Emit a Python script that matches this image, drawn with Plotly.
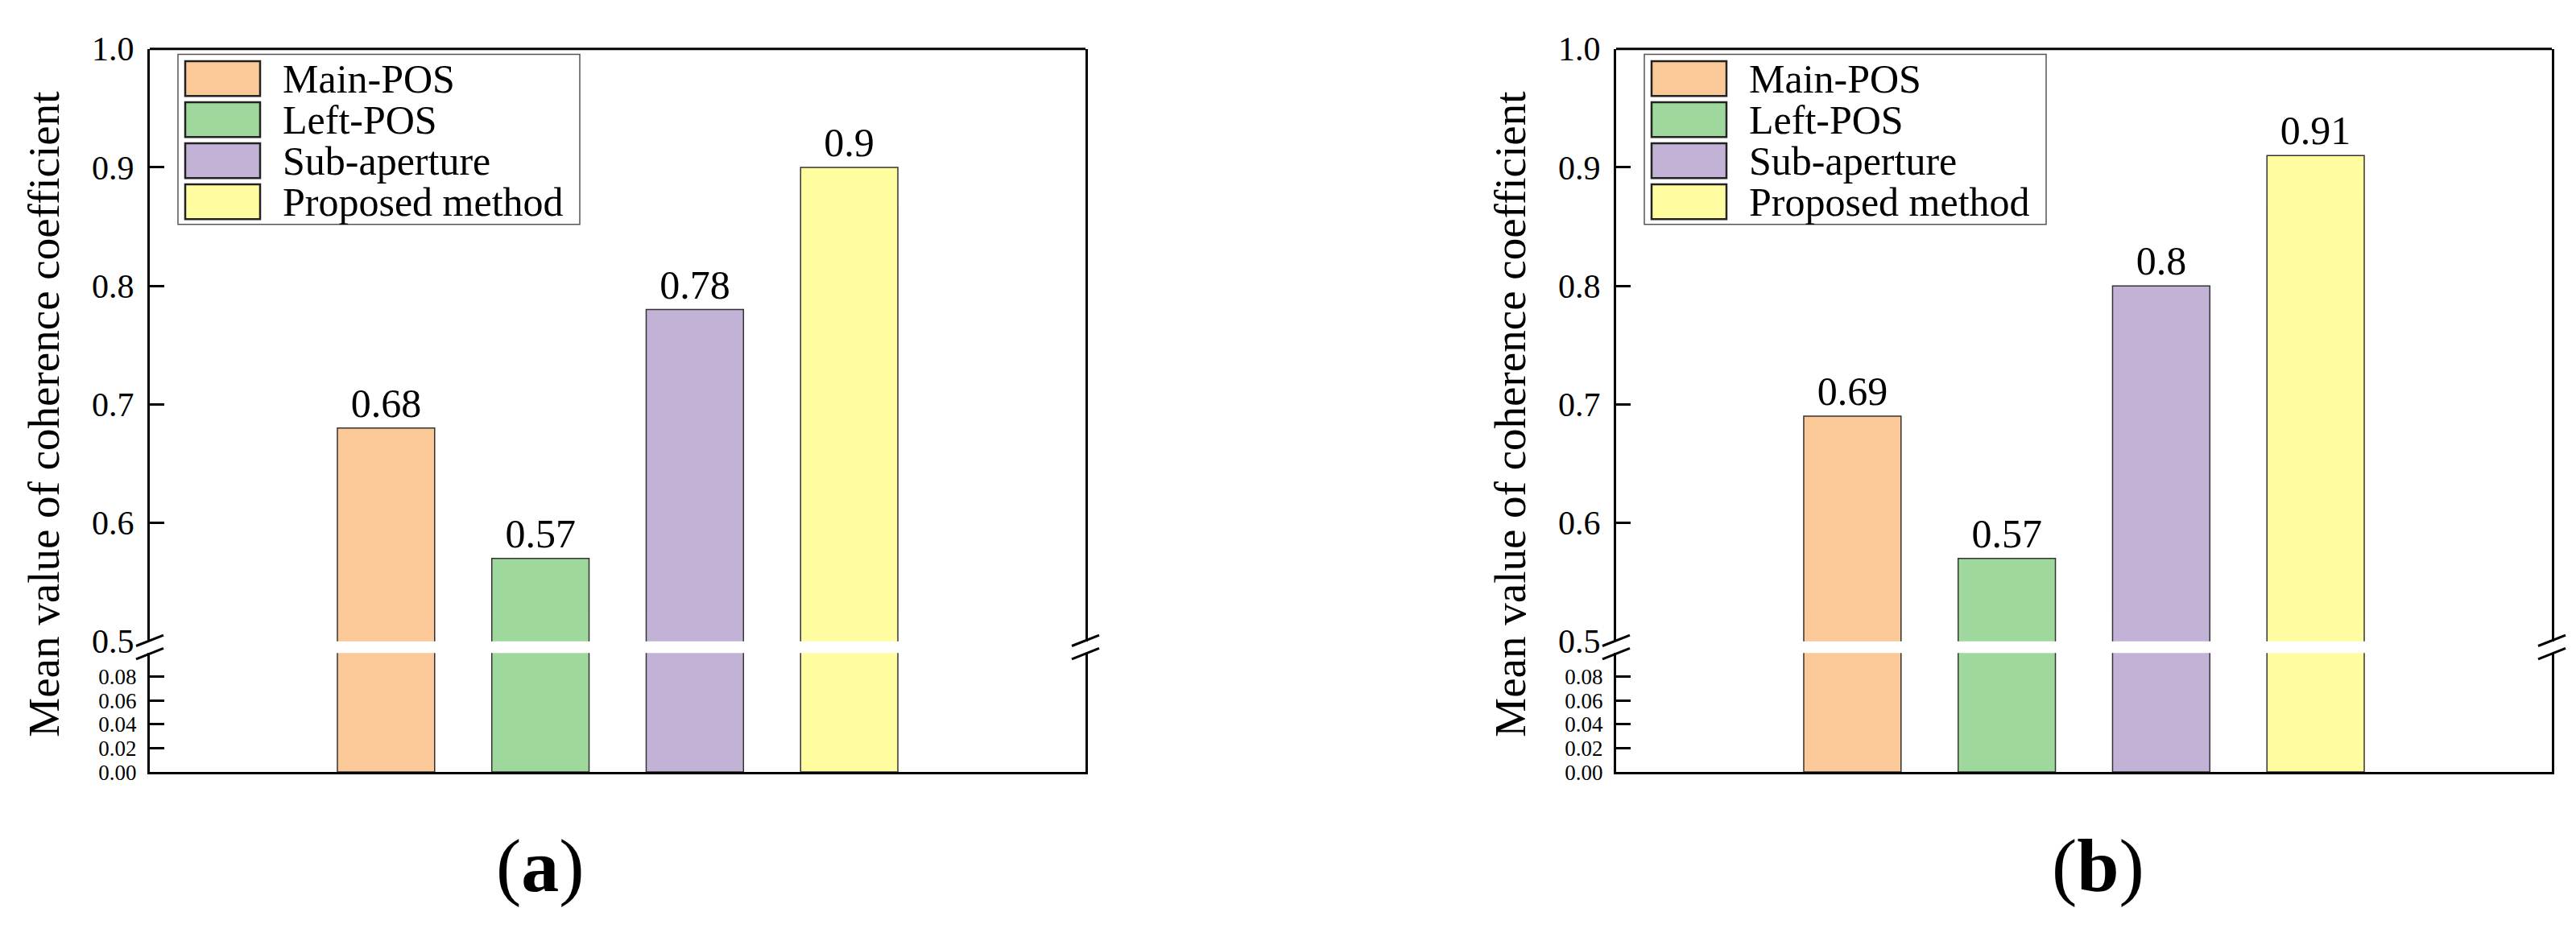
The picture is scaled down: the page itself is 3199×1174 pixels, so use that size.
import plotly.graph_objects as go

# data
methods = ["Main-POS", "Left-POS", "Sub-aperture", "Proposed method"]
bar_colors = ["#FBC897", "#9FD89C", "#C2B2D6", "#FFFD9F"]
values_a = [0.68, 0.57, 0.78, 0.9]
values_b = [0.69, 0.57, 0.8, 0.91]
panel_labels = ["(<b>a</b>)", "(<b>b</b>)"]
upper_ticks = [0.5, 0.6, 0.7, 0.8, 0.9, 1.0]
lower_ticks = [0.0, 0.02, 0.04, 0.06, 0.08]
y_title = "Mean value of coherence coefficient"

W, H = 3199, 1174
SERIF = "Liberation Serif"

# layout in pixels
panel_left = [178, 1999]
panel_w = 1162
upper_top, upper_bot = 32, 798
lower_top, lower_bot = 813, 967
label_x = [663, 2597]


def fx(p):
    return p / W


def fy(p):
    return 1 - p / H


fig = go.Figure()
shapes = []
annotations = []
layout = {}

for i, vals in enumerate([values_a, values_b]):
    n = 2 * i + 1
    xa, yu, yl = f"x{n if n > 1 else ''}", f"y{n if n > 1 else ''}", f"y{n + 1}"
    sx = panel_left[i]
    xdom = [fx(sx), fx(sx + panel_w)]

    fig.add_trace(go.Bar(
        x=methods, y=vals, xaxis=xa, yaxis=yu, width=0.63,
        marker=dict(color=bar_colors, line=dict(color="#333333", width=1.5)),
        text=[str(v) for v in vals], textposition="outside", constraintext="none",
        textfont=dict(family=SERIF, size=50, color="black"), showlegend=False,
    ))
    fig.add_trace(go.Bar(
        x=methods, y=vals, xaxis=xa, yaxis=yl, width=0.63,
        marker=dict(color=bar_colors, line=dict(color="#333333", width=1.5)),
        showlegend=False,
    ))

    xkey = "xaxis" if n == 1 else f"xaxis{n}"
    layout[xkey] = dict(
        domain=xdom, anchor=yl, type="category", range=[-1.53, 4.53],
        showline=True, linecolor="black", linewidth=3, ticks="",
        showticklabels=False, showgrid=False, zeroline=False,
    )
    ykey_u = "yaxis" if n == 1 else f"yaxis{n}"
    layout[ykey_u] = dict(
        domain=[fy(upper_bot), fy(upper_top)], anchor=xa, range=[0.5, 1.0],
        tickvals=upper_ticks, ticktext=[f"{t:.1f}" for t in upper_ticks],
        ticks="inside", ticklen=18, tickwidth=3, tickcolor="black",
        showline=True, mirror=True, linecolor="black", linewidth=3,
        showgrid=False, zeroline=False, ticklabelstandoff=8,
        tickfont=dict(family=SERIF, size=42, color="black"),
    )
    layout[f"yaxis{n + 1}"] = dict(
        domain=[fy(lower_bot), fy(lower_top)], anchor=xa, range=[0, 0.1],
        tickvals=lower_ticks, ticktext=[f"{t:.2f}" for t in lower_ticks],
        ticks="inside", ticklen=18, tickwidth=3, tickcolor="black",
        showline=True, mirror=True, linecolor="black", linewidth=3,
        showgrid=False, zeroline=False, ticklabelstandoff=8,
        tickfont=dict(family=SERIF, size=27, color="black"),
    )

    # top frame line
    shapes.append(dict(type="line", xref="paper", yref="paper",
                       x0=xdom[0], x1=xdom[1], y0=fy(upper_top), y1=fy(upper_top),
                       line=dict(color="black", width=3)))

    # axis break marks
    for spine in [sx, sx + panel_w]:
        for cy in [upper_bot - 1, lower_top + 1]:
            shapes.append(dict(type="line", xref="paper", yref="paper",
                               x0=fx(spine - 17), y0=fy(cy + 7),
                               x1=fx(spine + 17), y1=fy(cy - 7),
                               line=dict(color="black", width=3)))

    # legend
    shapes.append(dict(type="rect", xref="paper", yref="paper",
                       x0=fx(sx + 35), x1=fx(sx + 534), y0=fy(259), y1=fy(39),
                       line=dict(color="#555555", width=1.5), fillcolor="white"))
    for k, (name, col) in enumerate(zip(methods, bar_colors)):
        top = 48 + 53 * k
        shapes.append(dict(type="rect", xref="paper", yref="paper",
                           x0=fx(sx + 44), x1=fx(sx + 137), y0=fy(top + 45), y1=fy(top),
                           line=dict(color="#222222", width=2.5), fillcolor=col))
        annotations.append(dict(xref="paper", yref="paper", x=fx(sx + 163),
                                y=fy(top + 22.5), text=name, showarrow=False,
                                xanchor="left", yanchor="middle",
                                font=dict(family=SERIF, size=50, color="black")))

    # y title
    annotations.append(dict(xref="paper", yref="paper", x=fx(sx - 131),
                            y=fy((upper_top + lower_bot) / 2 + 5), text=y_title,
                            textangle=-90, showarrow=False,
                            xanchor="center", yanchor="middle",
                            font=dict(family=SERIF, size=55, color="black")))

    # panel label
    annotations.append(dict(xref="paper", yref="paper", x=fx(label_x[i]), y=fy(1088),
                            text=panel_labels[i], showarrow=False,
                            xanchor="center", yanchor="middle",
                            font=dict(family=SERIF, size=94, color="black")))

fig.update_layout(
    width=W, height=H,
    margin=dict(l=0, r=0, t=0, b=0),
    paper_bgcolor="white", plot_bgcolor="white",
    shapes=shapes, annotations=annotations,
    bargap=0.3, **layout,
)

fig.write_html("out.html")
